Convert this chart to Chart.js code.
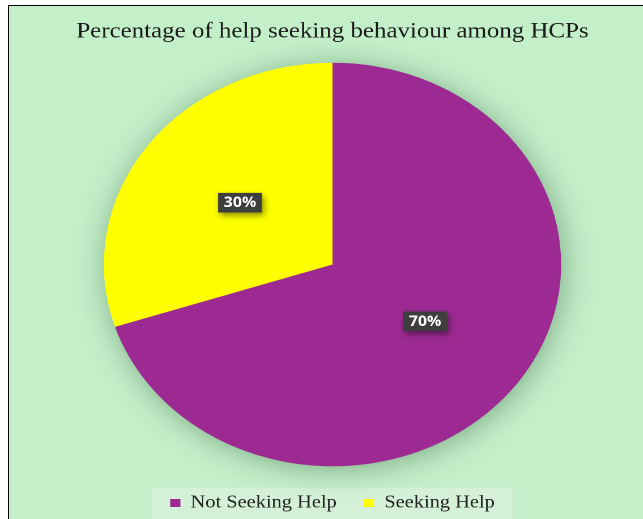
<!DOCTYPE html>
<html>
<head>
<meta charset="utf-8">
<script src="https://cdn.jsdelivr.net/npm/chart.js@4.4.1/dist/chart.umd.min.js"></script>
<style>
  html, body { margin: 0; padding: 0; background: #fff; width: 643px; height: 519px; overflow: hidden; }
  #frame {
    position: absolute; left: 8px; top: 5px; width: 635px; height: 514px;
    border-top: 1px solid #000; border-left: 1px solid #000;
    background: #C3EFC9; overflow: hidden;
  }
  /* the whole chart is widened horizontally, pie included */
  #chart { position: absolute; left: 0; top: 0; transform: scaleX(1.133); transform-origin: 0 0; }
</style>
</head>
<body>
<div id="frame"><canvas id="chart" width="571" height="516"></canvas></div>
<script>
const categories = ['Not Seeking Help', 'Seeking Help'];
const percentages = [70, 30];
const sliceColors = ['#9C2A92', '#FFFF00'];
const chartTitle = 'Percentage of help seeking behaviour among HCPs';

// soft halo behind the pie
const pieHalo = {
  id: 'pieHalo',
  beforeDatasetsDraw(chart) {
    const arc = chart.getDatasetMeta(0).data[0];
    if (!arc) return;
    const { x, y, outerRadius } = arc.getProps(['x', 'y', 'outerRadius'], true);
    const dpr = chart.currentDevicePixelRatio || 1;
    const ctx = chart.ctx;
    ctx.save();
    ctx.shadowColor = 'rgba(20, 70, 30, 0.42)';
    ctx.shadowBlur = 28 * dpr;
    ctx.shadowOffsetX = 2 * dpr;
    ctx.shadowOffsetY = 3 * dpr;
    ctx.fillStyle = sliceColors[0];
    ctx.beginPath();
    ctx.arc(x, y, outerRadius - 1, 0, Math.PI * 2);
    ctx.fill();
    ctx.restore();
  }
};

// lighter panel behind the legend entries
const legendPanel = {
  id: 'legendPanel',
  beforeDraw(chart) {
    const lg = chart.legend;
    if (!lg || !lg.legendHitBoxes || !lg.legendHitBoxes.length) return;
    const boxes = lg.legendHitBoxes;
    const left = Math.min(...boxes.map(b => b.left)) - 16;
    const right = Math.max(...boxes.map(b => b.left + b.width)) + 15.7;
    const mid = boxes[0].top + boxes[0].height / 2;
    const ctx = chart.ctx;
    ctx.save();
    ctx.fillStyle = '#D4F1D7';
    ctx.fillRect(left, mid - 15.4, right - left, 60);
    ctx.restore();
  }
};

// dark value tags on each slice
const valueTags = {
  id: 'valueTags',
  afterDatasetsDraw(chart) {
    const ctx = chart.ctx;
    const dpr = chart.currentDevicePixelRatio || 1;
    const meta = chart.getDatasetMeta(0);
    ctx.save();
    ctx.font = '700 14px "Open Sans"';
    ctx.textAlign = 'center';
    ctx.textBaseline = 'middle';
    meta.data.forEach((arc, i) => {
      const { x, y } = arc.tooltipPosition();
      const text = percentages[i] + '%';
      const w = ctx.measureText(text).width + 10;
      const h = 19.6;
      const cy = y - 2.5;
      ctx.save();
      ctx.shadowColor = 'rgba(0, 0, 0, 0.45)';
      ctx.shadowBlur = 6 * dpr;
      ctx.shadowOffsetX = 2 * dpr;
      ctx.shadowOffsetY = 3 * dpr;
      ctx.fillStyle = '#3E3E3E';
      ctx.fillRect(x - w / 2, cy - h / 2, w, h);
      ctx.restore();
      ctx.fillStyle = '#FFFFFF';
      ctx.fillText(text, x, cy + 0.5);
    });
    ctx.restore();
  }
};

new Chart(document.getElementById('chart'), {
  type: 'pie',
  data: {
    labels: categories,
    datasets: [{
      data: percentages,
      backgroundColor: sliceColors,
      borderWidth: 0
    }]
  },
  options: {
    responsive: false,
    animation: false,
    devicePixelRatio: 2,
    events: [],
    layout: { padding: 0 },
    plugins: {
      title: {
        display: true,
        text: chartTitle,
        color: '#1B1B1B',
        font: { family: '"Liberation Serif", serif', size: 22, weight: 'normal', lineHeight: 1.2 },
        padding: { top: 12.3, bottom: 18 }
      },
      legend: {
        display: true,
        position: 'bottom',
        // empty title only adds a little space above the entries
        title: { display: true, text: '', font: { size: 1, lineHeight: 1 }, padding: { top: 2.7, bottom: 0 } },
        labels: {
          boxWidth: 9,
          boxHeight: 8,
          padding: 24,
          color: '#222222',
          font: { family: '"Liberation Serif", serif', size: 18 }
        }
      },
      tooltip: { enabled: false }
    }
  },
  plugins: [legendPanel, pieHalo, valueTags]
});
</script>
</body>
</html>
